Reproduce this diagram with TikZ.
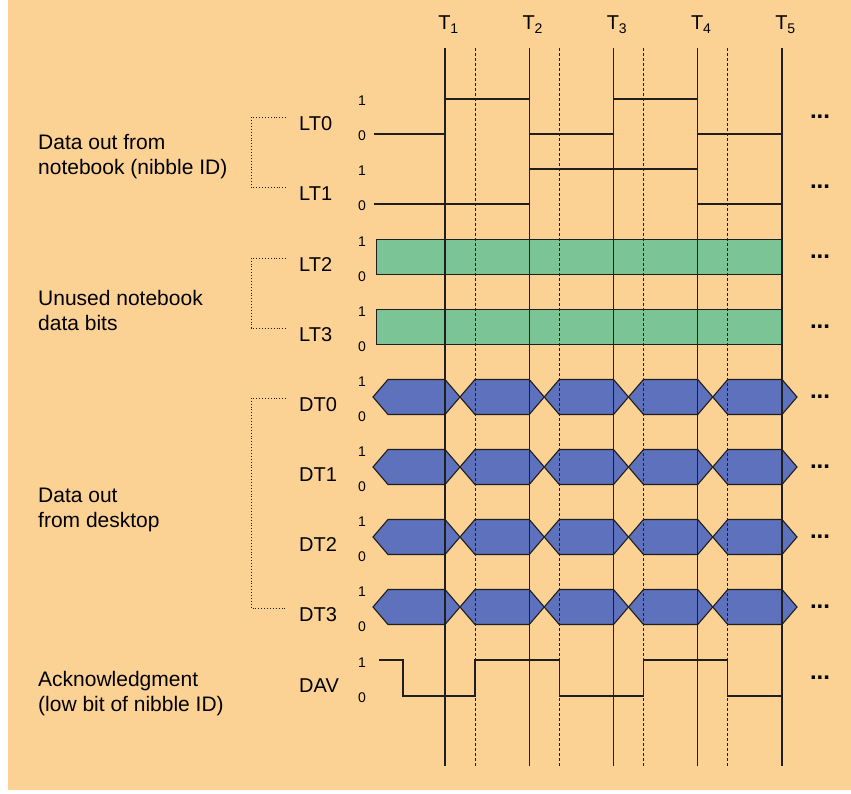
\documentclass[tikz,border=0pt]{standalone}
\usepackage{fontspec}
\setmainfont{Liberation Sans}
\usetikzlibrary{calc}
\definecolor{colbg}{RGB}{251,209,148}
\definecolor{colgreen}{RGB}{122,196,150}
\definecolor{colblue}{RGB}{94,113,188}
\definecolor{coldark}{RGB}{30,30,30}

\begin{document}
\begin{tikzpicture}[x=1pt, y=-1pt,
  signame/.style={font=\fontsize{20}{24}\selectfont, anchor=base west, inner sep=0pt},
  lvl/.style={font=\fontsize{14}{16}\selectfont, anchor=base, inner sep=0pt},
  desc/.style={font=\fontsize{21}{25}\selectfont, align=left, anchor=west, inner sep=0pt},
  ticklabel/.style={font=\fontsize{20}{24}\selectfont, anchor=base, inner sep=0pt},
  more/.style={font=\bfseries\fontsize{24}{26}\selectfont, inner sep=0pt},
  wave/.style={line width=1.1pt, coldark},
  clk/.style={line width=1.1pt, coldark},
  halfclk/.style={line width=0.8pt, coldark, dash pattern=on 3pt off 2pt},
  brace/.style={line width=0.9pt, coldark, dotted},
  unused/.style={draw=coldark, line width=1.1pt, fill=colgreen},
  nibble/.style={draw=coldark, line width=1.1pt, fill=colblue, line join=miter}
]
\useasboundingbox (0,0) rectangle (851,794);
\fill[white] (0,0) rectangle (851,794);
\fill[colbg] (8,0) rectangle (851,790);

% Signal names, level marks and continuation dots
\foreach \nm/\y in {LT0/116.5, LT1/186.5, LT2/257, LT3/327, DT0/397,
                    DT1/467, DT2/537, DT3/607, DAV/678}{
  \node[signame] (\nm) at (299,\y+14.5) {\nm};
  \coordinate (r\nm) at (286,\y+1);
  \node[lvl] (one\nm) at (362,\y-10.5) {1};
  \node[lvl] (zero\nm) at (362,\y+24.5) {0};
  \node[more] (dots\nm) at (820,\y) {...};
}

% Group descriptions
\node[desc] (nibbleid) at (38,156.5) {Data out from\\notebook (nibble ID)};
\node[desc] (unusedbits) at (38,310.5) {Unused notebook\\data bits};
\node[desc] (desktop) at (38,510) {Data out\\from desktop};
\node[desc] (ack) at (38,694) {Acknowledgment\\(low bit of nibble ID)};

% Brackets
\draw[brace] (rLT0) -- ++(-35,0) |- (rLT1);
\draw[brace] (rLT2) -- ++(-35,0) |- (rLT3);
\draw[brace] (rDT0) -- ++(-35,0) |- (rDT3);

% Unused bits
\draw[unused] (376.6,239.5) rectangle (782,274.5);
\draw[unused] (376.6,309.5) rectangle (782,344.5);

% Desktop data nibbles
\foreach \c in {397,467,537,607}
  \foreach \l/\r in {388/445, 475/529.25, 559.25/613.5, 643.5/697.75, 727.75/782}
    \draw[nibble] (\l-15,\c) -- (\l,\c-17.5) -- (\r,\c-17.5) -- (\r+15,\c)
      -- (\r,\c+17.5) -- (\l,\c+17.5) -- cycle;

% Nibble ID
\draw[wave] (374,134) -- (445,134) -- (445,99) -- (529.25,99) -- (529.25,134)
  -- (613.5,134) -- (613.5,99) -- (697.75,99) -- (697.75,134) -- (782,134);
\draw[wave] (374,204) -- (529.25,204) -- (529.25,169) -- (697.75,169)
  -- (697.75,204) -- (782,204);

% Acknowledgment
\draw[wave] (379,660) -- (403,660) -- (403,696) -- (475,696) -- (475,660)
  -- (559.25,660) -- (559.25,696) -- (643.5,696) -- (643.5,660)
  -- (727.75,660) -- (727.75,696) -- (782,696);

% Clock times
\foreach \i in {1,...,5}{
  \pgfmathsetmacro\tx{445+84.25*(\i-1)}
  \coordinate (top\i) at (\tx,48);
  \coordinate (bot\i) at (\tx,766);
  \node[ticklabel] (T\i) at (\tx+3.5,30) {T\textsubscript{\i}};
  \draw[clk] (top\i) -- (bot\i);
}
\foreach \i in {1,...,4}{
  \pgfmathsetmacro\tx{475+84.25*(\i-1)}
  \coordinate (mtop\i) at (\tx,48);
  \coordinate (mbot\i) at (\tx,766);
  \draw[halfclk] (mtop\i) -- (mbot\i);
}
\end{tikzpicture}
\end{document}
